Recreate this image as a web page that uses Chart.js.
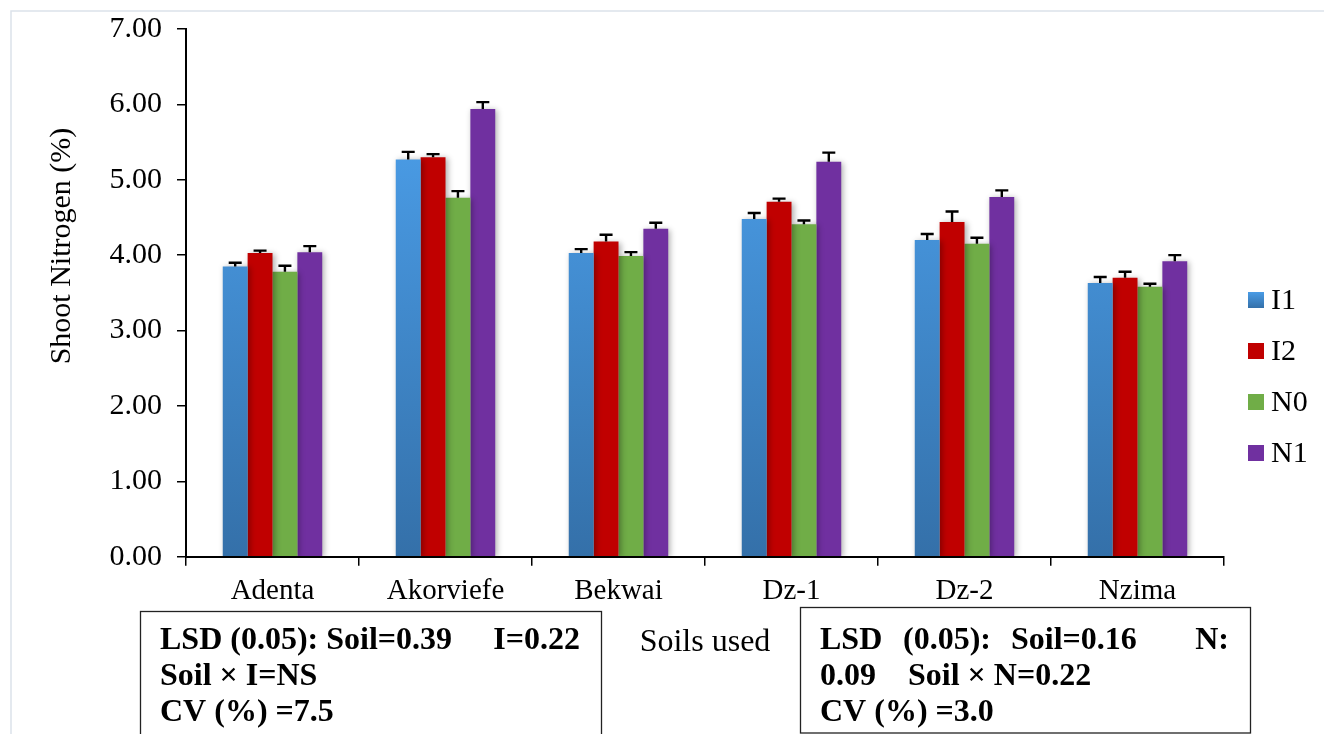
<!DOCTYPE html>
<html>
<head>
<meta charset="utf-8">
<script src="https://cdn.jsdelivr.net/npm/chart.js@4.4.1/dist/chart.umd.min.js"></script>
<style>
  html, body { margin: 0; padding: 0; background: #fff; overflow: hidden; }
  #wrap { position: relative; width: 1324px; height: 734px; }
</style>
</head>
<body>
<div id="wrap"><canvas id="c" width="1324" height="734"></canvas></div>
<script>
// Soils and treatment series
const soils = ['Adenta', 'Akorviefe', 'Bekwai', 'Dz-1', 'Dz-2', 'Nzima'];
const seriesNames = ['I1', 'I2', 'N0', 'N1'];

// Mean shoot nitrogen (%) per soil
const valuesI1 = [3.85, 5.27, 4.03, 4.48, 4.20, 3.63];
const valuesI2 = [4.03, 5.30, 4.18, 4.71, 4.44, 3.70];
const valuesN0 = [3.78, 4.76, 3.99, 4.41, 4.15, 3.58];
const valuesN1 = [4.04, 5.94, 4.35, 5.24, 4.77, 3.92];

// Standard errors (upper whisker only)
const errI1 = [0.05, 0.10, 0.05, 0.08, 0.08, 0.08];
const errI2 = [0.03, 0.04, 0.09, 0.04, 0.14, 0.08];
const errN0 = [0.08, 0.09, 0.05, 0.05, 0.08, 0.04];
const errN1 = [0.08, 0.09, 0.08, 0.12, 0.09, 0.08];

// Value axis range
const yMin = 0;
const yMax = 7;
const yStep = 1;
const yTitle = 'Shoot Nitrogen (%)';
const xTitle = 'Soils used';

// Statistics boxes under the chart
const statsLeft = [
  ['LSD (0.05): Soil=0.39', 'I=0.22'],
  ['Soil \u00d7 I=NS'],
  ['CV (%) =7.5']
];
const statsRight = [
  ['LSD', '(0.05):', 'Soil=0.16', 'N:'],
  ['0.09', 'Soil \u00d7 N=0.22'],
  ['CV (%) =3.0']
];

const SERIF = "'Liberation Serif', 'Times New Roman', serif";
const solid = { I2: '#C00000', N0: '#70AD47', N1: '#7030A0' };

function blueGradient(ctx, area) {
  const g = ctx.createLinearGradient(0, area.bottom, 0, area.top + area.height * 0.2);
  g.addColorStop(0, '#3470A9');
  g.addColorStop(1, '#4A9CE6');
  return g;
}

function i1Fill(context) {
  const chart = context.chart;
  if (!chart.chartArea) return '#4596DE';
  return blueGradient(chart.ctx, chart.chartArea);
}

const errors = [errI1, errI2, errN0, errN1];

const decorations = {
  id: 'decorations',
  beforeDraw(chart) {
    const ctx = chart.ctx;
    ctx.save();
    ctx.strokeStyle = '#DCE2EA';
    ctx.lineWidth = 1.5;
    ctx.beginPath();
    ctx.moveTo(11, 734);
    ctx.lineTo(11, 11);
    ctx.lineTo(1324, 11);
    ctx.stroke();
    ctx.restore();
  },
  beforeDatasetsDraw(chart) {
    const ctx = chart.ctx;
    ctx.save();
    ctx.shadowColor = 'rgba(0,0,0,0.32)';
    ctx.shadowBlur = 6;
    ctx.shadowOffsetX = 2;
    ctx.shadowOffsetY = 1;
  },
  afterDatasetsDraw(chart) {
    const ctx = chart.ctx;
    ctx.restore();
    const yScale = chart.scales.y;
    ctx.save();
    ctx.strokeStyle = '#000';
    ctx.lineWidth = 2.4;
    chart.data.datasets.forEach((ds, di) => {
      const meta = chart.getDatasetMeta(di);
      meta.data.forEach((bar, i) => {
        const v = ds.data[i];
        const top = yScale.getPixelForValue(v + errors[di][i]);
        ctx.beginPath();
        ctx.moveTo(bar.x, bar.y);
        ctx.lineTo(bar.x, top);
        ctx.moveTo(bar.x - 6.5, top);
        ctx.lineTo(bar.x + 6.5, top);
        ctx.stroke();
      });
    });
    ctx.restore();
  },
  afterDraw(chart) {
    const ctx = chart.ctx;
    ctx.save();

    // value axis title
    ctx.save();
    ctx.translate(62, 246);
    ctx.rotate(-Math.PI / 2);
    ctx.font = '30px ' + SERIF;
    ctx.fillStyle = '#000';
    ctx.textAlign = 'center';
    ctx.textBaseline = 'middle';
    ctx.fillText(yTitle, 0, 0);
    ctx.restore();

    // legend
    ctx.font = '30px ' + SERIF;
    ctx.textBaseline = 'middle';
    ctx.textAlign = 'left';
    chart.data.datasets.forEach((ds, di) => {
      const cy = 300 + di * 51;
      if (di === 0) {
        const g = ctx.createLinearGradient(0, cy - 8, 0, cy + 8);
        g.addColorStop(0, '#4A9CE6');
        g.addColorStop(1, '#3470A9');
        ctx.fillStyle = g;
      } else {
        ctx.fillStyle = ds.backgroundColor;
      }
      ctx.fillRect(1248, cy - 8, 16, 16);
      ctx.fillStyle = '#000';
      ctx.fillText(ds.label, 1271, cy + 1);
    });

    // statistics boxes
    ctx.strokeStyle = '#222';
    ctx.lineWidth = 1.3;
    ctx.strokeRect(140.5, 611.5, 461, 140);
    ctx.strokeRect(800.5, 607.5, 450, 125.5);

    ctx.fillStyle = '#000';
    ctx.font = 'bold 32px ' + SERIF;
    const lineY = [641, 677, 713];
    const put = (text, x, y, align) => {
      ctx.textAlign = align;
      ctx.fillText(text, x, y);
    };
    put(statsLeft[0][0], 160, lineY[0], 'left');
    put(statsLeft[0][1], 580, lineY[0], 'right');
    put(statsLeft[1][0], 160, lineY[1], 'left');
    put(statsLeft[2][0], 160, lineY[2], 'left');

    put(statsRight[0][0], 820, lineY[0], 'left');
    put(statsRight[0][1], 903, lineY[0], 'left');
    put(statsRight[0][2], 1011, lineY[0], 'left');
    put(statsRight[0][3], 1229, lineY[0], 'right');
    put(statsRight[1][0], 820, lineY[1], 'left');
    put(statsRight[1][1], 908, lineY[1], 'left');
    put(statsRight[2][0], 820, lineY[2], 'left');
    ctx.restore();
  }
};

const datasets = [
  { label: seriesNames[0], data: valuesI1, backgroundColor: i1Fill },
  { label: seriesNames[1], data: valuesI2, backgroundColor: solid.I2 },
  { label: seriesNames[2], data: valuesN0, backgroundColor: solid.N0 },
  { label: seriesNames[3], data: valuesN1, backgroundColor: solid.N1 }
];

new Chart(document.getElementById('c'), {
  type: 'bar',
  data: { labels: soils, datasets },
  options: {
    responsive: false,
    animation: false,
    devicePixelRatio: 1,
    layout: { padding: { left: 40, right: 100, top: 29, bottom: 0 } },
    datasets: { bar: { categoryPercentage: 0.575, barPercentage: 1.0, borderWidth: 0 } },
    plugins: { legend: { display: false }, tooltip: { enabled: false } },
    scales: {
      x: {
        grid: { display: true, drawOnChartArea: false, offset: true, tickLength: 9, color: '#000', lineWidth: 1.5 },
        border: { display: true, color: '#000', width: 2 },
        ticks: { color: '#000', padding: 8, font: { family: SERIF, size: 29 } },
        title: { display: true, text: xTitle, color: '#000', font: { family: SERIF, size: 32 }, padding: { top: 0, bottom: 72 } },
        afterFit(axis) { axis.height = 734 - 556.7; }
      },
      y: {
        min: yMin,
        max: yMax,
        grid: { display: true, drawOnChartArea: false, tickLength: 9, color: '#000', lineWidth: 1.5 },
        border: { display: true, color: '#000', width: 2 },
        ticks: {
          stepSize: yStep,
          color: '#000',
          padding: 15,
          font: { family: SERIF, size: 30, lineHeight: 0.9 },
          callback: (v) => Number(v).toFixed(2)
        },
        title: { display: false },
        afterFit(axis) { axis.width = 146; }
      }
    }
  },
  plugins: [decorations]
});
</script>
</body>
</html>
